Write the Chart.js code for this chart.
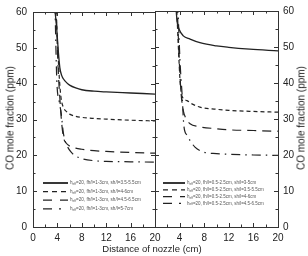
<!DOCTYPE html>
<html>
<head>
<meta charset="utf-8">
<script src="https://cdn.jsdelivr.net/npm/chart.js@4.4.1/dist/chart.umd.min.js"></script>
<style>
  body { margin: 0; background: #fff; overflow: hidden; }
  #wrap { position: relative; width: 308px; height: 256px; }
  canvas { position: absolute; left: 0; top: 0; }
  .lbl { position: absolute; font-family: "Liberation Sans", Arial, sans-serif; color: #222; white-space: nowrap; }
  .ytitle { font-size: 10px; transform: translate(-50%, -50%) rotate(-90deg); }
  .xtitle { font-size: 9.5px; transform: translate(-50%, -50%); }
</style>
</head>
<body>
<div id="wrap">
  <canvas id="leftChart" width="308" height="256"></canvas>
  <canvas id="rightChart" width="308" height="256"></canvas>
  <div class="lbl ytitle" style="left:10px; top:118px;">CO mole fraction (ppm)</div>
  <div class="lbl ytitle" style="left:301px; top:118px;">CO mole fraction (ppm)</div>
  <div class="lbl xtitle" style="left:152px; top:248px;">Distance of nozzle (cm)</div>
</div>
<script>
// left panel: fh/l = 1-3cm
const leftLabels = [
    "h_eff=20, fh/l=1-3cm, sh/l=3.5-5.5cm",
    "h_eff=20, fh/l=1-3cm, sh/l=4-6cm",
    "h_eff=20, fh/l=1-3cm, sh/l=4.5-6.5cm",
    "h_eff=20, fh/l=1-3cm, sh/l=5-7cm"
];
const leftS1 = [[3.6, 60.5], [3.9, 55], [4.15, 49], [4.4, 44.5], [4.7, 42.3], [5, 41.3], [5.5, 40.3], [6, 39.6], [7, 38.8], [8, 38.3], [10, 37.9], [12, 37.7], [16, 37.4], [20, 37.1]];
const leftS2 = [[3.7, 62], [4, 52], [4.3, 42], [4.6, 36], [5, 33.3], [5.5, 32.2], [6, 31.5], [7, 30.9], [8, 30.6], [10, 30.3], [12, 30.1], [16, 29.8], [20, 29.6]];
const leftS3 = [[3.8, 62], [4.1, 45], [4.4, 36], [4.7, 29], [5, 25], [5.5, 23.3], [6, 22.6], [7, 22], [8, 21.7], [10, 21.3], [12, 21.1], [16, 20.8], [20, 20.6]];
const leftS4 = [[3.6, 62], [3.9, 41], [4.3, 35], [4.6, 32], [5, 26], [5.5, 23], [6.3, 20.8], [7, 19.8], [8.2, 19], [10, 18.5], [12, 18.3], [16, 18.2], [20, 18.1]];

// right panel: fh/l = 0.5-2.5cm
const rightLabels = [
    "h_eff=20, fh/l=0.5-2.5cm, sh/l=3-5cm",
    "h_eff=20, fh/l=0.5-2.5cm, sh/l=3.5-5.5cm",
    "h_eff=20, fh/l=0.5-2.5cm, sh/l=4-6cm",
    "h_eff=20, fh/l=0.5-2.5cm, sh/l=4.5-6.5cm"
];
const rightS1 = [[3.4, 61], [3.6, 57], [3.9, 55], [4.6, 53.1], [5.7, 52.2], [7.3, 51.2], [10, 50.3], [12, 49.9], [15.4, 49.4], [20, 48.9]];
const rightS2 = [[3.5, 62], [3.8, 50], [4.1, 40], [4.4, 36.3], [5.2, 35.1], [6, 34.2], [7.3, 33.3], [10, 32.7], [12, 32.4], [16, 32.1], [20, 31.9]];
const rightS3 = [[3.6, 62], [3.9, 48], [4.2, 38], [4.6, 32.3], [5, 30.3], [5.7, 28.7], [7, 27.9], [10, 27.3], [12, 27], [16, 26.8], [20, 26.6]];
const rightS4 = [[3.7, 62], [4.1, 45], [4.4, 37], [4.7, 28], [5.2, 25.5], [5.7, 24], [6.5, 22.2], [7.9, 20.8], [10, 20.4], [12.2, 20.2], [16, 20], [20, 19.9]];

const xTicks = [0, 4, 8, 12, 16, 20];
const yTicks = [0, 10, 20, 30, 40, 50, 60];

const INK = "#222";
const styles = [
    { dash: [], legendDash: [], width: 1.3 },
    { dash: [4, 3], legendDash: [5, 4], width: 1.2 },
    { dash: [9, 6], legendDash: [9, 8], width: 1.2 },
    { dash: [9, 5, 1.5, 5], legendDash: [9, 7, 2, 7], width: 1.2 }
];

function toPoints(arr) {
    return arr.map(p => ({ x: p[0], y: p[1] }));
}

function makeDatasets(labels, series) {
    return series.map((s, i) => ({
        label: labels[i],
        data: toPoints(s),
        borderColor: INK,
        borderWidth: styles[i].width,
        borderDash: styles[i].dash,
        legendDash: styles[i].legendDash,
        pointRadius: 0,
        cubicInterpolationMode: 'monotone',
        fill: false
    }));
}

// frame with inward major/minor ticks on all four sides
const framePlugin = {
    id: 'frame',
    afterDraw(chart) {
        const { ctx, chartArea: a, scales: { x, y } } = chart;
        ctx.save();
        ctx.strokeStyle = "#333";
        ctx.lineWidth = 1;
        ctx.strokeRect(Math.round(a.left) + 0.5, Math.round(a.top) + 0.5, Math.round(a.width), Math.round(a.height));
        ctx.beginPath();
        for (let v = 2; v < 20; v += 2) {
            const px = Math.round(x.getPixelForValue(v)) + 0.5;
            const len = v % 4 === 0 ? 4 : 2.5;
            ctx.moveTo(px, a.bottom); ctx.lineTo(px, a.bottom - len);
            ctx.moveTo(px, a.top); ctx.lineTo(px, a.top + len);
        }
        for (let v = 5; v < 60; v += 5) {
            const py = Math.round(y.getPixelForValue(v)) + 0.5;
            const len = v % 10 === 0 ? 4 : 2.5;
            ctx.moveTo(a.left, py); ctx.lineTo(a.left + len, py);
            ctx.moveTo(a.right, py); ctx.lineTo(a.right - len, py);
        }
        ctx.stroke();
        ctx.restore();
    }
};

// small legend inside the plot, with dashed sample lines
const dashLegend = {
    id: 'dashLegend',
    afterDraw(chart, args, opts) {
        const ctx = chart.ctx;
        ctx.save();
        chart.data.datasets.forEach((ds, i) => {
            const yy = opts.y + i * opts.rowGap;
            ctx.strokeStyle = INK;
            ctx.lineWidth = i === 0 ? 1.8 : 1.3;
            ctx.setLineDash(ds.legendDash);
            ctx.beginPath();
            ctx.moveTo(opts.x, yy);
            ctx.lineTo(opts.x + opts.lineLen, yy);
            ctx.stroke();
            ctx.setLineDash([]);

            const m = ds.label.match(/^(\w)_(\w+)(.*)$/);
            let tx = opts.x + opts.lineLen + 2;
            ctx.fillStyle = "#555";
            ctx.textBaseline = "middle";
            ctx.font = opts.fontSize + "px 'Liberation Sans', Arial, sans-serif";
            ctx.fillText(m[1], tx, yy);
            tx += ctx.measureText(m[1]).width;
            ctx.font = (opts.fontSize * 0.7) + "px 'Liberation Sans', Arial, sans-serif";
            ctx.fillText(m[2], tx, yy + 1.2);
            tx += ctx.measureText(m[2]).width;
            ctx.font = opts.fontSize + "px 'Liberation Sans', Arial, sans-serif";
            ctx.fillText(m[3], tx, yy);
        });
        ctx.restore();
    }
};

const tickFont = { family: "'Liberation Sans', Arial, sans-serif", size: 10 };

function panelOptions(side, legendOpts) {
    const isLeft = side === 'left';
    return {
        responsive: false,
        animation: false,
        devicePixelRatio: 1,
        layout: {
            padding: isLeft
                ? { left: 0, right: 153, top: 10, bottom: 0 }
                : { left: 155, right: 0, top: 10, bottom: 0 }
        },
        plugins: {
            legend: { display: false },
            tooltip: { enabled: false },
            dashLegend: legendOpts
        },
        scales: {
            x: {
                type: 'linear',
                min: 0,
                max: 20,
                afterBuildTicks: (scale) => { scale.ticks = xTicks.map(v => ({ value: v })); },
                afterFit: (scale) => { scale.height = 29; },
                grid: { display: false, drawTicks: false },
                border: { display: false },
                ticks: {
                    color: "#222",
                    font: tickFont,
                    padding: 5,
                    maxRotation: 0,
                    autoSkip: false,
                    callback: (v) => (!isLeft && v === 0) ? "" : v
                }
            },
            y: {
                type: 'linear',
                position: side,
                min: 0,
                max: 60,
                afterBuildTicks: (scale) => { scale.ticks = yTicks.map(v => ({ value: v })); },
                afterFit: (scale) => { scale.width = isLeft ? 33 : 30; },
                grid: { display: false, drawTicks: false },
                border: { display: false },
                ticks: {
                    color: "#222",
                    font: tickFont,
                    padding: isLeft ? 6 : 5,
                    autoSkip: false
                }
            }
        }
    };
}

new Chart(document.getElementById("leftChart"), {
    type: 'line',
    data: { datasets: makeDatasets(leftLabels, [leftS1, leftS2, leftS3, leftS4]) },
    options: panelOptions('left', { x: 43, y: 183, rowGap: 8.6, lineLen: 25, fontSize: 4.6 }),
    plugins: [framePlugin, dashLegend]
});

new Chart(document.getElementById("rightChart"), {
    type: 'line',
    data: { datasets: makeDatasets(rightLabels, [rightS1, rightS2, rightS3, rightS4]) },
    options: panelOptions('right', { x: 163, y: 183, rowGap: 6.8, lineLen: 22, fontSize: 4.5 }),
    plugins: [framePlugin, dashLegend]
});
</script>
</body>
</html>
